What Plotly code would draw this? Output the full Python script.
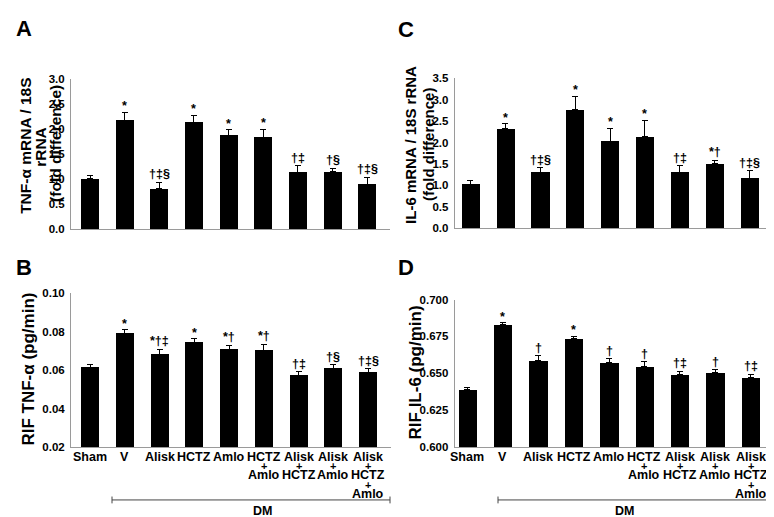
import plotly.graph_objects as go

categories = ["Sham", "V", "Alisk", "HCTZ", "Amlo", "HCTZ+Amlo",
              "Alisk+HCTZ", "Alisk+Amlo", "Alisk+HCTZ+Amlo"]

# Panel A: TNF-alpha mRNA / 18S rRNA (fold difference)
tnf_mrna = [1.00, 2.17, 0.80, 2.13, 1.87, 1.83, 1.13, 1.14, 0.89]
tnf_mrna_sem = [0.07, 0.17, 0.13, 0.15, 0.12, 0.17, 0.14, 0.08, 0.14]
tnf_mrna_marks = ["", "*", "†‡§", "*", "*", "*", "†‡", "†§", "†‡§"]

# Panel B: RIF TNF-alpha (pg/min)
tnf_rif = [0.0615, 0.0792, 0.0683, 0.0746, 0.0707, 0.0702, 0.0573, 0.0607, 0.0588]
tnf_rif_sem = [0.0017, 0.0018, 0.0025, 0.0017, 0.0024, 0.0034, 0.0020, 0.0022, 0.0020]
tnf_rif_marks = ["", "*", "*†‡", "*", "*†", "*†", "†‡", "†§", "†‡§"]

# Panel C: IL-6 mRNA / 18S rRNA (fold difference)
il6_mrna = [1.03, 2.32, 1.31, 2.76, 2.02, 2.13, 1.30, 1.50, 1.16]
il6_mrna_sem = [0.09, 0.12, 0.10, 0.32, 0.31, 0.39, 0.16, 0.09, 0.18]
il6_mrna_marks = ["", "*", "†‡§", "*", "*", "*", "†‡", "*†", "†‡§"]

# Panel D: RIF IL-6 (pg/min)
il6_rif = [0.6391, 0.6828, 0.6587, 0.6733, 0.6574, 0.6547, 0.6494, 0.6503, 0.6470]
il6_rif_sem = [0.0015, 0.0013, 0.0031, 0.0018, 0.0024, 0.0031, 0.0018, 0.0022, 0.0024]
il6_rif_marks = ["", "*", "†", "*", "†", "†", "†‡", "†", "†‡"]

group_label = "DM"

W, H = 774, 517
FONT = "Liberation Sans, Arial, sans-serif"


def px_x(p):
    return p / W


def px_y(p):
    return 1 - p / H


panels = [
    dict(v=tnf_mrna, e=tnf_mrna_sem, m=tnf_mrna_marks, ax="", xd=(63, 382), yd=(220, 66.7),
         yr=[0, 3.0], dt=0.5, fmt=".1f", xr=[-0.55, 8.66]),
    dict(v=il6_mrna, e=il6_mrna_sem, m=il6_mrna_marks, ax="2", xd=(446.7, 765), yd=(219.3, 65.7),
         yr=[0, 3.5], dt=0.5, fmt=".1f", xr=[-0.45, 8.67]),
    dict(v=tnf_rif, e=tnf_rif_sem, m=tnf_rif_marks, ax="3", xd=(63, 383), yd=(443.3, 286),
         yr=[0.02, 0.10], dt=0.02, fmt=".2f", xr=[-0.55, 8.66]),
    dict(v=il6_rif, e=il6_rif_sem, m=il6_rif_marks, ax="4", xd=(446.7, 765), yd=(443.3, 292.3),
         yr=[0.600, 0.700], dt=0.025, fmt=".3f", xr=[-0.36, 8.63]),
]

fig = go.Figure()
annotations = []
shapes = []

for p in panels:
    ax = p["ax"]
    fig.add_trace(go.Bar(
        x=categories, y=p["v"], width=0.52,
        marker=dict(color="black", line=dict(width=0)),
        error_y=dict(type="data", symmetric=False, array=p["e"],
                     arrayminus=[0] * len(p["e"]), color="black",
                     thickness=1, width=3),
        xaxis="x" + ax, yaxis="y" + ax, showlegend=False,
    ))
    xa = dict(domain=[px_x(p["xd"][0]), px_x(p["xd"][1])], range=p["xr"],
              showline=True, linecolor="#9a9a9a", linewidth=1, ticks="",
              showticklabels=False, showgrid=False, zeroline=False,
              anchor="y" + ax, type="category",
              categoryorder="array", categoryarray=categories)
    ya = dict(domain=[px_y(p["yd"][0]), px_y(p["yd"][1])], range=p["yr"],
              dtick=p["dt"], tick0=p["yr"][0], tickformat=p["fmt"],
              showline=True, linecolor="#9a9a9a", linewidth=1, ticks="",
              ticklabelstandoff=3, showgrid=False, zeroline=False,
              tickfont=dict(family=FONT, size=11.5, color="black", weight="bold"),
              anchor="x" + ax)
    fig.update_layout(**{("xaxis" + ax): xa, ("yaxis" + ax): ya})

    # significance marks
    for c, val, se, mk in zip(categories, p["v"], p["e"], p["m"]):
        if not mk:
            continue
        shift = -3 if mk == "*" else -1
        annotations.append(dict(
            x=c, y=val + se, xref="x" + ax, yref="y" + ax, text=mk,
            showarrow=False, yanchor="bottom", yshift=shift,
            font=dict(family=FONT, size=12.5, color="black", weight="bold")))

    # category labels below B and D
    if ax in ("3", "4"):
        for c in categories:
            lines = []
            for i, part in enumerate(c.split("+")):
                if i > 0:
                    lines.append("+")
                lines.append(part)
            for j, line in enumerate(lines):
                is_plus = line == "+"
                annotations.append(dict(
                    x=c, y=px_y(p["yd"][0]), xref="x" + ax, yref="paper",
                    text=line, showarrow=False, yanchor="middle",
                    yshift=-(10 + 9.2 * j),
                    font=dict(family=FONT, size=11 if is_plus else 12.5,
                              color="black", weight="bold")))

# DM brackets
for x0, x1 in [(104, 382), (490, 766)]:
    yb = px_y(497.5)
    shapes.append(dict(type="line", xref="paper", yref="paper",
                       x0=px_x(x0), x1=px_x(x1), y0=yb, y1=yb,
                       line=dict(color="#444444", width=1)))
    for xe in (x0, x1):
        shapes.append(dict(type="line", xref="paper", yref="paper",
                           x0=px_x(xe), x1=px_x(xe), y0=px_y(494), y1=px_y(501),
                           line=dict(color="#444444", width=1)))
    annotations.append(dict(x=px_x((x0 + x1) / 2), y=px_y(508.5), xref="paper", yref="paper",
                            text=group_label, showarrow=False, yanchor="middle",
                            font=dict(family=FONT, size=12.5, color="black", weight="bold")))

# axis titles
titles = [
    ("TNF-α mRNA / 18S", 18, 135, 15.5),
    ("rRNA", 33, 136, 15.5),
    ("(fold difference)", 48, 133, 15.5),
    ("IL-6 mRNA / 18S rRNA", 403, 134, 15),
    ("(fold difference)", 421, 134, 15),
    ("RIF TNF-α (pg/min)", 21, 364, 17),
    ("RIF IL-6 (pg/min)", 407, 367, 17),
]
for txt, x, y, s in titles:
    annotations.append(dict(x=px_x(x), y=px_y(y), xref="paper", yref="paper",
                            text=txt, textangle=-90, showarrow=False,
                            xanchor="center", yanchor="middle",
                            font=dict(family=FONT, size=s, color="black", weight="bold")))

# panel letters
for letter, x, y in [("A", 16, 15), ("C", 398, 16), ("B", 16, 260), ("D", 398, 260)]:
    annotations.append(dict(x=px_x(x), y=px_y(y), xref="paper", yref="paper",
                            text=letter, showarrow=False,
                            xanchor="center", yanchor="middle",
                            font=dict(family=FONT, size=22, color="black", weight="bold")))

fig.update_layout(
    width=W, height=H, margin=dict(l=0, r=0, t=0, b=0),
    paper_bgcolor="white", plot_bgcolor="white",
    annotations=annotations, shapes=shapes, bargap=0,
)

fig.write_html("out.html")
